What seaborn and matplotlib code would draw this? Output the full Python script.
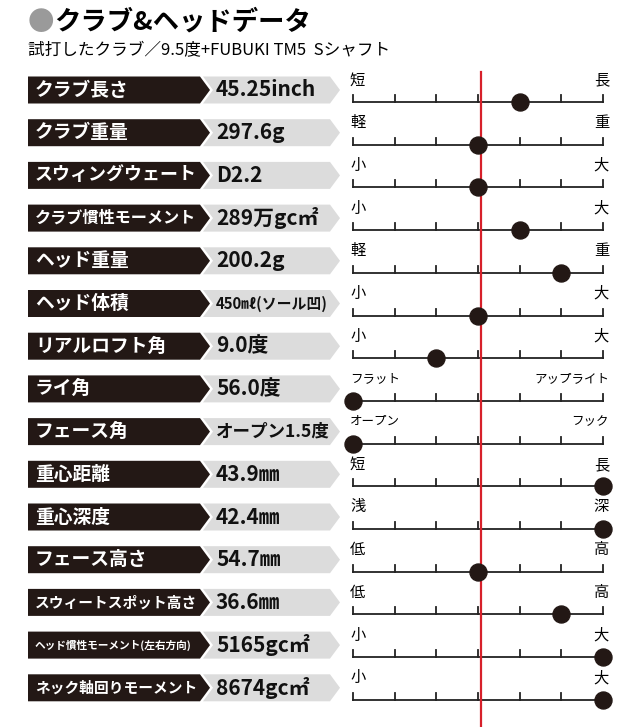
import matplotlib
matplotlib.use("Agg")
import matplotlib.pyplot as plt
from matplotlib.patches import Polygon
import seaborn as sns
import pandas as pd

FONT = "Noto Sans CJK JP"

# --- DATA ---
labels = ["クラブ長さ", "クラブ重量", "スウィングウェート", "クラブ慣性モーメント", "ヘッド重量",
          "ヘッド体積", "リアルロフト角", "ライ角", "フェース角", "重心距離", "重心深度",
          "フェース高さ", "スウィートスポット高さ", "ヘッド慣性モーメント(左右方向)", "ネック軸回りモーメント"]
values = ["45.25inch", "297.6g", "D2.2", "289万gc㎡", "200.2g", "450㎖(ソール凹)", "9.0度",
          "56.0度", "オープン1.5度", "43.9㎜", "42.4㎜", "54.7㎜", "36.6㎜", "5165gc㎡", "8674gc㎡"]
left_words = ["短", "軽", "小", "小", "軽", "小", "小", "フラット", "オープン", "短", "浅", "低", "低", "小", "小"]
right_words = ["長", "重", "大", "大", "重", "大", "大", "アップライト", "フック", "長", "深", "高", "高", "大", "大"]
positions = [4, 3, 3, 4, 5, 3, 2, 0, 0, 6, 6, 3, 5, 6, 6]  # 0..6 on the 7-tick scale

df = pd.DataFrame({"label": labels, "value": values, "pos": positions})


def text_units(s):
    # rough width in em: ascii ~0.58, everything else ~1
    return sum(0.58 if ord(c) < 128 else 1.0 for c in s)


def fit_size(s, width, cap):
    return min(cap, width / (text_units(s) * 1.39))


fig = plt.figure(figsize=(6.4, 7.27), dpi=100)
ax = fig.add_axes([0, 0, 1, 1])

row0, step = 90, 42.7
sx0, sx1 = 353, 603
df["y"] = [row0 + i * step for i in range(len(df))]
df["sx"] = sx0 + df["pos"] * (sx1 - sx0) / 6
df["ly"] = df["y"] + 12

ax.text(28, 22, "●", color="#9a9a9a", fontsize=19, fontfamily=FONT, va="center", fontweight="bold")
ax.text(54, 22, "クラブ&ヘッドデータ", color="black", fontsize=19, fontfamily=FONT, va="center", fontweight="bold")
ax.text(28, 51, "試打したクラブ／9.5度+FUBUKI TM5  Sシャフト", fontsize=12, fontfamily=FONT, va="center")

for i, r in df.iterrows():
    y = r["y"]
    h = 13.5
    ax.add_patch(Polygon([(28, y - h), (200, y - h), (210, y), (200, y + h), (28, y + h)],
                         closed=True, color="#231815", lw=0))
    ax.add_patch(Polygon([(203, y - h), (330, y - h), (340, y), (330, y + h), (203, y + h), (213, y)],
                         closed=True, color="#dcdcdc", lw=0))
    ax.text(35, y, r["label"], color="white", fontsize=fit_size(r["label"], 162, 13.5),
            fontweight="bold", fontfamily=FONT, va="center")
    ax.text(216, y, r["value"], color="#111111", fontsize=fit_size(r["value"], 118, 15),
            fontweight="bold", fontfamily=FONT, va="center")

    ly = r["ly"]
    ax.plot([sx0, sx1], [ly, ly], color="#222222", lw=1.3)
    for k in range(7):
        tx = sx0 + k * (sx1 - sx0) / 6
        ax.plot([tx, tx], [ly, ly - 7], color="#222222", lw=1.3)
    ax.text(sx0 - 3, y - 10, left_words[i], fontsize=11 if len(left_words[i]) == 1 else 9,
            fontfamily=FONT, va="center", ha="left")
    ax.text(sx1 + 6, y - 10, right_words[i], fontsize=11 if len(right_words[i]) == 1 else 9,
            fontfamily=FONT, va="center", ha="right")

ax.plot([481, 481], [72, 727], color="#d7202a", lw=1.6, zorder=3)

sns.scatterplot(data=df, x="sx", y="ly", ax=ax, s=150, color="#231815", edgecolor="#231815",
                zorder=4, legend=False)
ax.set_xlim(0, 640)
ax.set_ylim(727, 0)
ax.axis("off")

fig.savefig("out.png", dpi=100, facecolor="white")
